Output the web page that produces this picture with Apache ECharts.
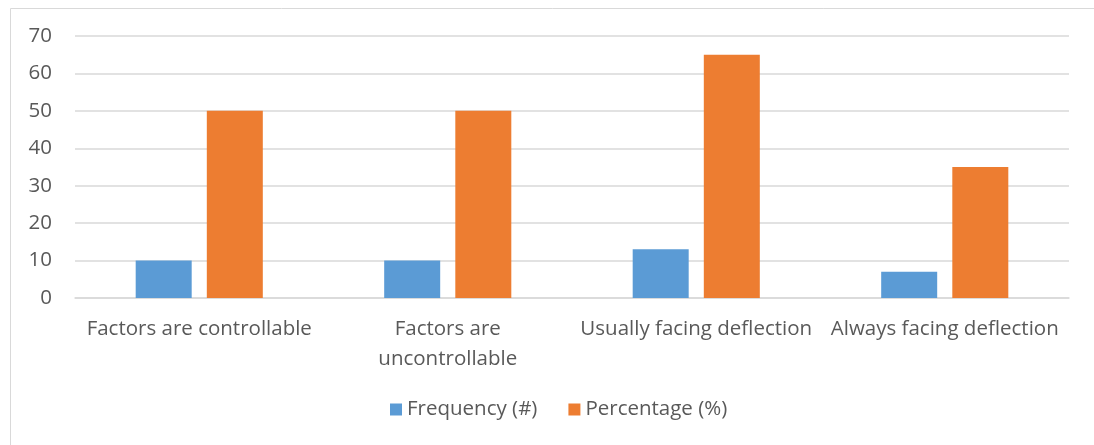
<!DOCTYPE html>
<html><head><meta charset="utf-8">
<script src="https://cdn.jsdelivr.net/npm/echarts@6/dist/echarts.min.js"></script>
<style>html,body{margin:0;padding:0;background:#fff}#c{width:1094px;height:445px}</style>
</head><body><div id="c"></div>
<script>
const categories = ["Factors are controllable", "Factors are uncontrollable", "Usually facing deflection", "Always facing deflection"];
const frequency = [10, 10, 13, 7];
const percentage = [50, 50, 65, 35];
const yTicks = [0, 10, 20, 30, 40, 50, 60, 70];

const font = "'Open Sans', 'Noto Sans', sans-serif";
const chart = echarts.init(document.getElementById('c'));
chart.setOption({
  animation: false,
  textStyle: { fontFamily: font },
  graphic: [{ type: 'rect', shape: { x: 10.5, y: 8.5, width: 1200, height: 600 }, style: { fill: 'none', stroke: '#d9d9d9', lineWidth: 1 }, silent: true }],
  grid: { left: 75, right: 25, top: 36, bottom: 147 },
  legend: {
    bottom: 20, left: 385, itemWidth: 12, itemHeight: 12, itemGap: 31,
    icon: 'rect',
    textStyle: { fontSize: 20.5, color: '#595959', fontFamily: font }
  },
  xAxis: {
    type: 'category', data: categories,
    axisLine: { lineStyle: { color: '#d9d9d9', width: 1.5 } },
    axisTick: { show: false },
    axisLabel: { interval: 0, fontSize: 20.5, color: '#595959', margin: 16, lineHeight: 30, width: 250, overflow: 'break', fontFamily: font,
      formatter: v => v === "Factors are uncontrollable" ? "Factors are\nuncontrollable" : v }
  },
  yAxis: {
    type: 'value', min: yTicks[0], max: yTicks[yTicks.length - 1], interval: 10,
    axisLine: { show: false }, axisTick: { show: false },
    splitLine: { lineStyle: { color: '#d9d9d9', width: 1.5 } },
    axisLabel: { fontSize: 20.5, color: '#595959', margin: 23, fontFamily: font }
  },
  series: [
    { name: 'Frequency (#)', type: 'bar', data: frequency, barWidth: 56, barGap: '27%', itemStyle: { color: '#5B9BD5' } },
    { name: 'Percentage (%)', type: 'bar', data: percentage, barWidth: 56, barGap: '27%', itemStyle: { color: '#ED7D31' } }
  ]
});
</script></body></html>
